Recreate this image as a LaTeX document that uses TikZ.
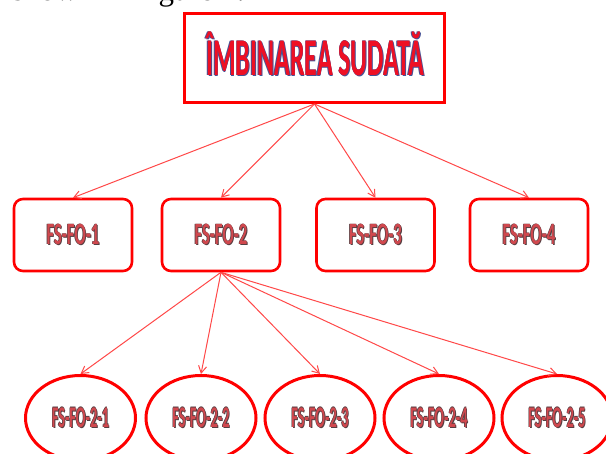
\documentclass[tikz,border=0pt]{standalone}
\usepackage{graphicx}
\usepackage{fontspec}
\setmainfont{Liberation Serif}
\newfontfamily\calfont{Carlito}
\usetikzlibrary{arrows.meta,shapes.geometric}
\definecolor{boxred}{RGB}{255,0,0}
\definecolor{linkred}{RGB}{255,72,72}
\definecolor{titlered}{RGB}{238,16,36}
\definecolor{titleedge}{RGB}{70,82,150}
\definecolor{labfill}{RGB}{208,72,78}
\definecolor{labedge}{RGB}{85,62,66}
\newcommand{\olt}[4]{\leavevmode
  \rlap{\hspace{-0.6pt}\textcolor{#1}{\scalebox{#3}[1]{#4}}}%
  \rlap{\hspace{0.9pt}\raisebox{-0.9pt}{\textcolor{#1}{\scalebox{#3}[1]{#4}}}}%
  \rlap{\raisebox{0.6pt}{\textcolor{#1}{\scalebox{#3}[1]{#4}}}}%
  \textcolor{#2}{\scalebox{#3}[1]{#4}}}
\begin{document}
\begin{tikzpicture}[x=1pt,y=-1pt,
  topframe/.style={draw=boxred, line width=3pt, minimum width=260pt, minimum height=89pt, inner sep=0pt},
  levelbox/.style={draw=boxred, line width=2.6pt, rounded corners=9pt, minimum width=118pt, minimum height=72pt, inner sep=0pt, font=\calfont\bfseries\fontsize{31}{31}\selectfont},
  leafoval/.style={ellipse, draw=boxred, line width=3pt, minimum width=110pt, minimum height=85pt, inner sep=0pt, font=\calfont\bfseries\fontsize{30}{30}\selectfont},
  link/.style={draw=linkred, line width=1pt, -{Straight Barb[length=7pt,width=8pt]}},
]
\useasboundingbox (0,0) rectangle (606,454);
\clip (0,0) rectangle (606,454);
\fill[white] (0,0) rectangle (606,454);
% cut-off caption line
\node[anchor=base west, inner sep=0pt, font=\fontsize{31}{31}\selectfont] (caption) at (12,0.5) {shown in Figure 1.};
% top box
\node[topframe] (topbox) at (314.5,58) {};
\node[anchor=base, inner sep=0pt, font=\calfont\bfseries\fontsize{53}{53}\selectfont] (title) at (315,76) {\olt{titleedge}{titlered}{0.49}{ÎMBINAREA SUDATĂ}};
% second level
\node[levelbox] (b1) at (73,235) {\olt{labedge}{labfill}{0.54}{FS-FO-1}};
\node[levelbox] (b2) at (221,235) {\olt{labedge}{labfill}{0.54}{FS-FO-2}};
\node[levelbox] (b3) at (375.5,235) {\olt{labedge}{labfill}{0.54}{FS-FO-3}};
\node[levelbox] (b4) at (529,235) {\olt{labedge}{labfill}{0.54}{FS-FO-4}};
% third level
\node[leafoval] (e1) at (80.5,418) {\olt{labedge}{labfill}{0.48}{FS-FO-2-1}};
\node[leafoval] (e2) at (201,418) {\olt{labedge}{labfill}{0.48}{FS-FO-2-2}};
\node[leafoval] (e3) at (320,418) {\olt{labedge}{labfill}{0.48}{FS-FO-2-3}};
\node[leafoval] (e4) at (439,418) {\olt{labedge}{labfill}{0.48}{FS-FO-2-4}};
\node[leafoval] (e5) at (557,418) {\olt{labedge}{labfill}{0.48}{FS-FO-2-5}};
% connectors
\foreach \t in {b1,b2,b3,b4} \draw[link] (topbox.south) -- (\t.north);
\foreach \t in {e1,e2,e3,e4,e5} \draw[link] (b2.south) -- (\t.north);
\end{tikzpicture}
\end{document}
